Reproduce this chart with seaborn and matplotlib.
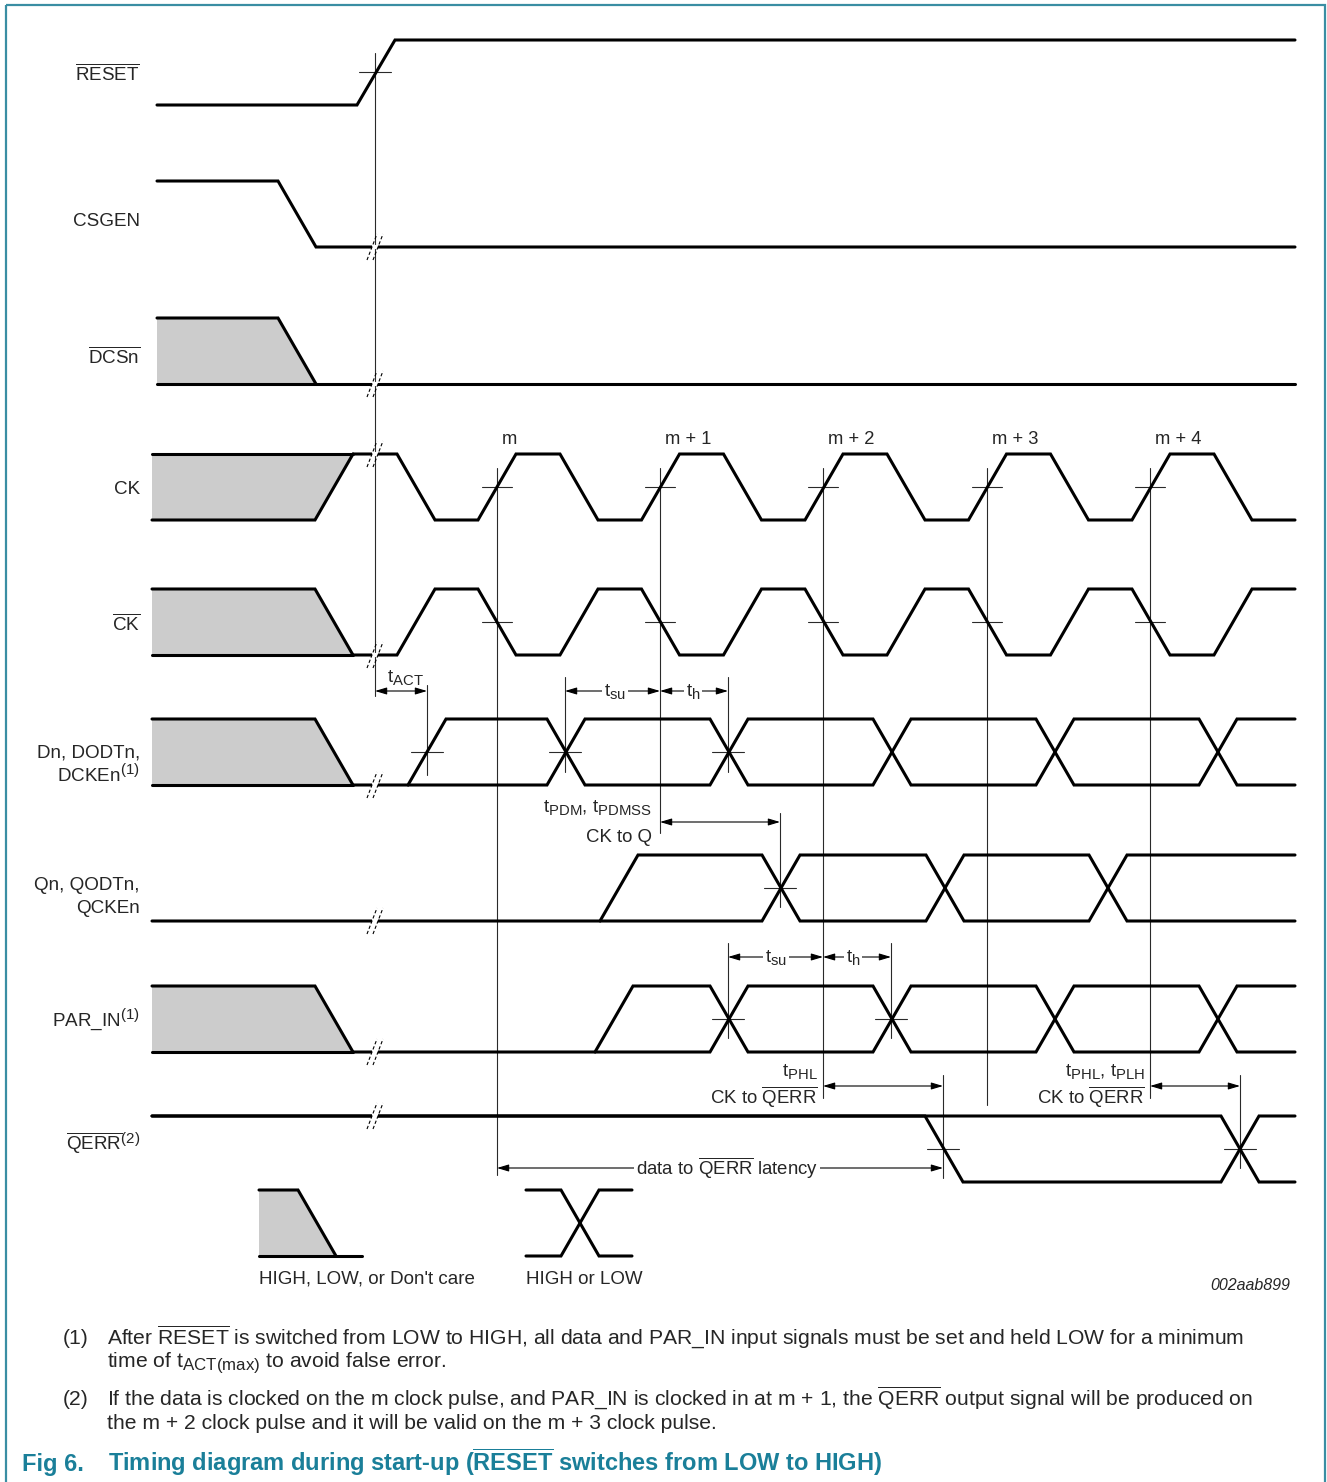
#!/usr/bin/env python3
# -*- coding: utf-8 -*-
"""
Timing diagram during start-up (RESET switches from LOW to HIGH), redrawn with seaborn.
Coordinates are in picture units (x to the right, y downwards).
"""

#%% Imports

import numpy as np
import pandas as pd
import seaborn as sns
import matplotlib
matplotlib.use('Agg')
from matplotlib import pyplot as plt
from matplotlib.patches import Rectangle

try:
    # sub/superscripts in the original are a bit larger than mathtext's default
    import matplotlib._mathtext as _mt
    _mt.SHRINK_FACTOR = 0.8
except Exception:
    pass

#%% Data

SIGNAL_LABELS = [[r'$\overline{RESET}$'], ['CSGEN'], [r'$\overline{DCSn}$'], ['CK'],
                 [r'$\overline{CK}$'], ['Dn, DODTn,', 'DCKEn$^{(1)}$'], ['Qn, QODTn,', 'QCKEn'],
                 ['PAR_IN$^{(1)}$'], [r'$\overline{QERR}^{(2)}$']]
LABEL_BASELINE = [[80], [226], [363], [494], [630], [758, 781], [890, 913], [1025], [1150]]
Y_HIGH = [40, 181, 318, 454, 589, 719, 855, 986, 1116]
Y_LOW = [105, 247, 384, 520, 655, 785, 921, 1052, 1182]

EDGE_W = 38          # width of one transition
X_END = 1295

# start of each transition (picture x)
RESET_EDGES = [357]
CSGEN_EDGES = [278]
CK_EDGES = [397, 478, 560, 641.5, 723.5, 805, 887, 968.5, 1050.5, 1132, 1214]
D_EDGES_A = [408, 547, 710, 873, 1036, 1199]
D_EDGES_B = [547, 710, 873, 1036, 1199]
Q_EDGES_A = [600, 762, 926, 1089]
Q_EDGES_B = [762, 926, 1089]
P_EDGES_A = [595, 710, 873, 1036, 1199]
P_EDGES_B = [710, 873, 1036, 1199]
E_EDGES_A = [925, 1221]
E_EDGES_B = [1221]

# don't-care regions: (row, start, edge)
DONTCARE = [(2, 157, 278), (3, 152, 315), (4, 152, 315), (5, 152, 315), (7, 152, 315)]

CLOCK_LABELS = ['m', 'm + 1', 'm + 2', 'm + 3', 'm + 4']
CLOCK_CROSS = [497, 660, 823, 987, 1150]
CLOCK_LINE_END = [1175, 833, 1098, 1105, 1098]

BREAK_Y = [247, 384, 454, 655, 785, 921, 1052, 1116]
BREAK_X = 375

# reference marks: (x, y, vertical top, vertical bottom)
MARKS = [(375, 72, 53, 696), (427, 752, 685, 775), (565, 752, 677, 772), (728, 752, 677, 772),
         (780, 888, 813, 907), (728, 1019, 943, 1038), (891, 1019, 943, 1038),
         (943, 1149, 1075, 1178), (1240, 1149, 1075, 1168)]

FOOTNOTES = [('(1)', r'After $\overline{RESET}$ is switched from LOW to HIGH, all data and PAR_IN '
              'input signals must be set and held LOW for a minimum',
              'time of $t_{ACT(max)}$ to avoid false error.'),
             ('(2)', 'If the data is clocked on the m clock pulse, and PAR_IN is clocked in at '
              r'm + 1, the $\overline{QERR}$ output signal will be produced on',
              'the m + 2 clock pulse and it will be valid on the m + 3 clock pulse.')]

TEAL = '#1a7f99'
FRAME = '#3a8ea3'
GREY = '#cccccc'
THIN = '#2a2a2a'

#%% Helpers

def wave(x0, x1, level, edges, yh, yl):
    ys = {1: yh, 0: yl}
    xs, yv = [x0], [ys[level]]
    for e in edges:
        xs += [e, e + EDGE_W]
        yv += [ys[level], ys[1 - level]]
        level = 1 - level
    xs.append(x1)
    yv.append(ys[level])
    return xs, yv


def dontcare(x0, edge, end_high, yh, yl):
    if end_high:
        lines = [([x0, edge + EDGE_W], [yh, yh]), ([x0, edge, edge + EDGE_W], [yl, yl, yh])]
        poly = [(x0, yh), (edge + EDGE_W, yh), (edge, yl), (x0, yl)]
    else:
        lines = [([x0, edge, edge + EDGE_W], [yh, yh, yl]), ([x0, edge + EDGE_W], [yl, yl])]
        poly = [(x0, yh), (edge, yh), (edge + EDGE_W, yl), (x0, yl)]
    return lines, poly

#%% Main

sns.set_theme(style='white')
plt.rcParams['font.family'] = ['Liberation Sans', 'DejaVu Sans']
plt.rcParams['mathtext.fontset'] = 'custom'
plt.rcParams['mathtext.rm'] = 'Liberation Sans'
plt.rcParams['mathtext.it'] = 'Liberation Sans:italic'
plt.rcParams['mathtext.bf'] = 'Liberation Sans:bold'
plt.rcParams['mathtext.default'] = 'regular'

fig = plt.figure(figsize=(13.27, 14.82), dpi=100)
ax = fig.add_axes([0, 0, 1, 1])

segs = []
polys = []

# don't care blocks
for row, x0, edge in DONTCARE:
    lines, poly = dontcare(x0, edge, row == 3, Y_HIGH[row], Y_LOW[row])
    segs += lines
    polys.append(poly)

segs.append(wave(157, X_END, 0, RESET_EDGES, Y_HIGH[0], Y_LOW[0]))
segs.append(wave(157, X_END, 1, CSGEN_EDGES, Y_HIGH[1], Y_LOW[1]))
segs.append(wave(316, X_END, 0, [], Y_HIGH[2], Y_LOW[2]))
segs.append(wave(353, X_END, 1, CK_EDGES, Y_HIGH[3], Y_LOW[3]))
segs.append(wave(353, X_END, 0, CK_EDGES, Y_HIGH[4], Y_LOW[4]))
segs.append(wave(353, X_END, 0, D_EDGES_A, Y_HIGH[5], Y_LOW[5]))
segs.append(wave(408, X_END, 0, D_EDGES_B, Y_HIGH[5], Y_LOW[5]))
segs.append(wave(152, X_END, 0, Q_EDGES_A, Y_HIGH[6], Y_LOW[6]))
segs.append(wave(600, X_END, 0, Q_EDGES_B, Y_HIGH[6], Y_LOW[6]))
segs.append(wave(353, X_END, 0, P_EDGES_A, Y_HIGH[7], Y_LOW[7]))
segs.append(wave(595, X_END, 0, P_EDGES_B, Y_HIGH[7], Y_LOW[7]))
segs.append(wave(152, X_END, 1, E_EDGES_A, Y_HIGH[8], Y_LOW[8]))
segs.append(wave(152, X_END, 1, E_EDGES_B, Y_HIGH[8], Y_LOW[8]))

# legend symbols
lines, poly = dontcare(259, 298, False, 1190, 1256)
lines[1] = ([259, 362], [1256, 1256])
segs += lines
polys.append(poly)
segs.append(wave(526, 632, 1, [561], 1190, 1256))
segs.append(wave(526, 632, 0, [561], 1190, 1256))

for p in polys:
    px, py = zip(*p)
    ax.fill(px, py, color=GREY, lw=0, zorder=1)

df = pd.concat([pd.DataFrame({'x': xs, 'y': ys, 'seg': i}) for i, (xs, ys) in enumerate(segs)],
               ignore_index=True)
sns.lineplot(data=df, x='x', y='y', units='seg', estimator=None, sort=False, color='black',
             linewidth=2.2, solid_joinstyle='miter', ax=ax, legend=False, zorder=3)

# clock reference lines and marks
for cx, yend in zip(CLOCK_CROSS, CLOCK_LINE_END):
    ax.plot([cx, cx], [468, yend], color=THIN, lw=0.8, zorder=2)
    for yc in [487, 622]:
        ax.plot([cx - 15, cx + 15], [yc, yc], color=THIN, lw=0.8, zorder=2)
for lab, cx in zip(CLOCK_LABELS, CLOCK_CROSS):
    ax.text(cx + 5, 444, lab, ha='left', va='baseline', fontsize=13.2)

for mx, my, vt, vb in MARKS:
    ax.plot([mx, mx], [vt, vb], color=THIN, lw=0.8, zorder=2)
    ax.plot([mx - 16, mx + 16], [my, my], color=THIN, lw=0.8, zorder=2)

# break marks
for by in BREAK_Y:
    ax.plot([BREAK_X - 3, BREAK_X + 3], [by, by], color='white', lw=3, zorder=4,
            solid_capstyle='butt')
    for off in [-3, 3]:
        ax.plot([BREAK_X + off - 5, BREAK_X + off + 5], [by + 13, by - 13], color='black',
                lw=0.8, ls=(0, (3, 2)), zorder=5)

# signal labels
for labs, ybs in zip(SIGNAL_LABELS, LABEL_BASELINE):
    for lab, yb in zip(labs, ybs):
        ax.text(140, yb, lab, ha='right', va='baseline', fontsize=13.6)

# dimension arrows
def dim(x0, x1, y, label=None, lx=None, ly=None):
    ax.annotate('', xy=(x1, y), xytext=(x0, y),
                arrowprops=dict(arrowstyle='<|-|>,head_length=0.5,head_width=0.15',
                                color='black', lw=0.8, shrinkA=0, shrinkB=0,
                                mutation_scale=14), zorder=2)
    if label is not None:
        ax.text(lx, ly, label, ha='center', va='baseline', fontsize=13.4,
                bbox=dict(fc='white', ec='none', pad=1.5), zorder=3)

dim(375, 427, 691)
ax.text(405, 682, '$t_{ACT}$', ha='center', va='baseline', fontsize=13.4)
dim(565, 660, 691, '$t_{su}$', 615, 696)
dim(660, 728, 691, '$t_{h}$', 693, 696)
dim(728, 823, 957, '$t_{su}$', 776, 962)
dim(823, 891, 957, '$t_{h}$', 853, 962)
dim(660, 780, 822)
ax.text(652, 812, '$t_{PDM}$, $t_{PDMSS}$', ha='right', va='baseline', fontsize=13.4)
ax.text(652, 842, 'CK to Q', ha='right', va='baseline', fontsize=13.4)
dim(823, 943, 1086)
ax.text(818, 1076, '$t_{PHL}$', ha='right', va='baseline', fontsize=13.4)
ax.text(818, 1103, r'CK to $\overline{QERR}$', ha='right', va='baseline', fontsize=13.4)
dim(1150, 1240, 1086)
ax.text(1145, 1076, '$t_{PHL}$, $t_{PLH}$', ha='right', va='baseline', fontsize=13.4)
ax.text(1145, 1103, r'CK to $\overline{QERR}$', ha='right', va='baseline', fontsize=13.4)
dim(497, 943, 1168, r'data to $\overline{QERR}$ latency', 727, 1175)

# legend texts
ax.text(259, 1284, "HIGH, LOW, or Don't care", ha='left', va='baseline', fontsize=13.5)
ax.text(526, 1284, 'HIGH or LOW', ha='left', va='baseline', fontsize=13.5)
ax.text(1290, 1290, '002aab899', ha='right', va='baseline', fontsize=11.5, style='italic')

# footnotes
for (num, line1, line2), yb in zip(FOOTNOTES, [1344, 1405]):
    ax.text(63, yb, num, ha='left', va='baseline', fontsize=15.2)
    ax.text(107, yb, line1, ha='left', va='baseline', fontsize=15.2)
    ax.text(107, yb + 24, line2, ha='left', va='baseline', fontsize=15.2)

# caption
ax.text(22, 1471, 'Fig 6.', ha='left', va='baseline', fontsize=17, fontweight='bold',
        color=TEAL)
ax.text(108, 1471, r'Timing diagram during start-up ($\overline{\mathbf{RESET}}$ switches from '
        'LOW to HIGH)', ha='left', va='baseline', fontsize=17, fontweight='bold', color=TEAL)

# frame
ax.add_patch(Rectangle((6, 5), 1319, 1490, fill=False, ec=FRAME, lw=1.6, zorder=6))

ax.set_xlim(0, 1327)
ax.set_ylim(1482, 0)
ax.axis('off')

fig.savefig('out.png', dpi=100, facecolor='white')
plt.close()
